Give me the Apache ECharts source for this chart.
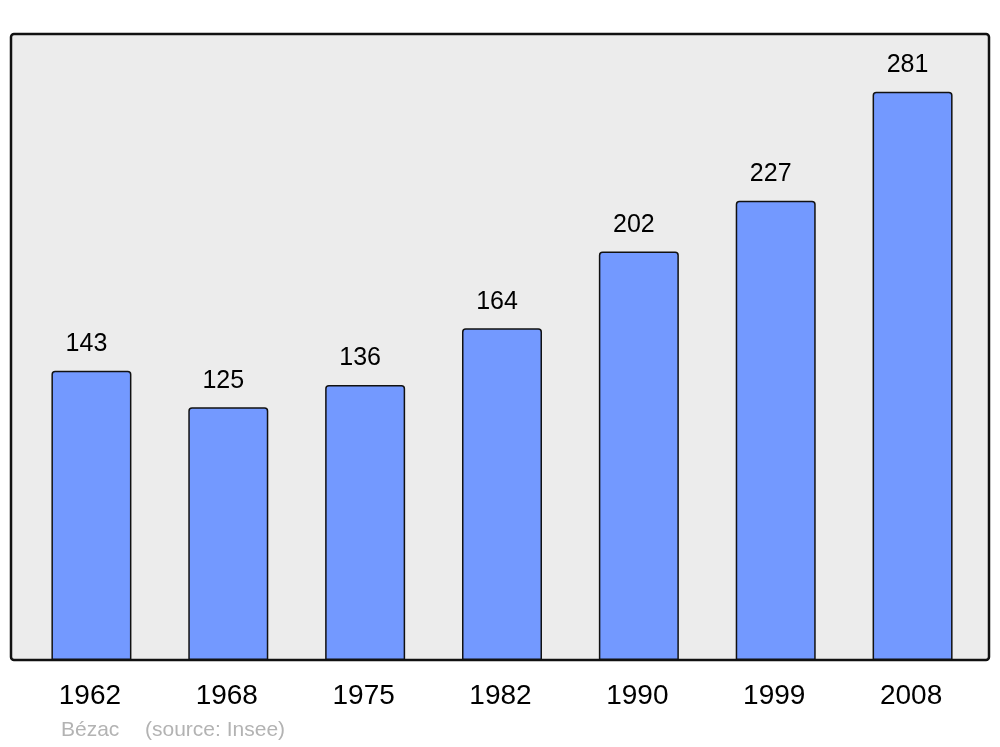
<!DOCTYPE html>
<html>
<head>
<meta charset="utf-8">
<script src="https://cdn.jsdelivr.net/npm/echarts@6/dist/echarts.min.js"></script>
<style>
html,body{margin:0;padding:0;background:#fff;}
#c{width:1000px;height:747px;}
</style>
</head>
<body>
<div id="c"></div>
<script>
var years = ['1962', '1968', '1975', '1982', '1990', '1999', '2008'];
var population = [143, 125, 136, 164, 202, 227, 281];
var townName = 'Bézac';
var sourceText = '(source: Insee)';

var chart = echarts.init(document.getElementById('c'), null, {renderer: 'canvas'});
var font = '"Liberation Sans", Arial, sans-serif';
chart.setOption({
  animation: false,
  backgroundColor: '#ffffff',
  graphic: [
    {
      type: 'rect', z: -10, silent: true,
      shape: {x: 11, y: 34, width: 978, height: 626, r: 3},
      style: {fill: '#ececec', stroke: '#111111', lineWidth: 2.5}
    },
    {
      type: 'text', left: 61, top: 720,
      style: {text: townName, fill: '#b3b3b3', font: '21px ' + font}
    },
    {
      type: 'text', left: 145, top: 720,
      style: {text: sourceText, fill: '#b3b3b3', font: '21px ' + font}
    }
  ],
  grid: {left: 23, right: 19, top: 34, bottom: 87},
  xAxis: {
    type: 'category',
    data: years,
    axisLine: {show: false},
    axisTick: {show: false},
    axisLabel: {color: '#000', fontSize: 28, fontFamily: font, margin: 22, padding: [0, 3, 0, 0]}
  },
  yAxis: {
    type: 'value', min: 0, max: 309.5,
    show: false,
    splitLine: {show: false}
  },
  series: [{
    type: 'bar',
    data: population,
    barWidth: 80,
    itemStyle: {color: '#7399ff', borderColor: '#111', borderWidth: 1.5, borderRadius: [3, 3, 0, 0]},
    label: {
      show: true, position: 'top', distance: 14, offset: [-5, 0],
      color: '#000', fontSize: 25, fontFamily: font
    }
  }]
});
</script>
</body>
</html>
